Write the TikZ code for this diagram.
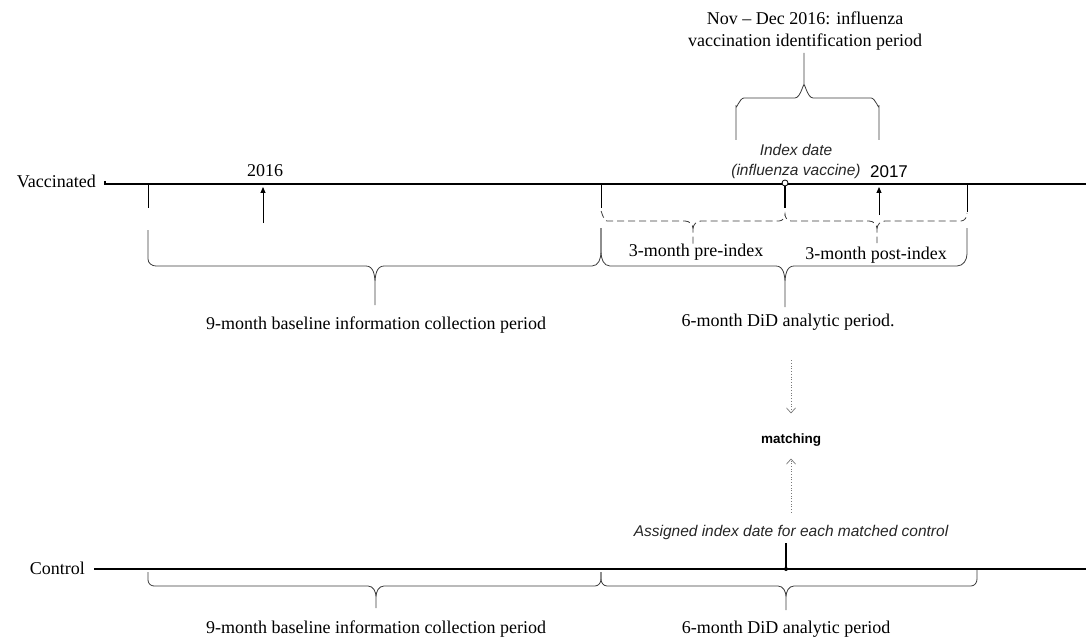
\documentclass[tikz,border=0pt]{standalone}
\usepackage{fontspec}
\setmainfont{Liberation Serif}
\setsansfont{Liberation Sans}
\usetikzlibrary{arrows.meta,positioning,calc}
\definecolor{LineGray}{RGB}{60, 60, 60}
\definecolor{DotGray}{RGB}{120, 120, 120}

\begin{document}
\begin{tikzpicture}[
    x=1pt, y=-1pt,
    lbl/.style={inner sep=0pt, font=\fontsize{18}{22}\selectfont, align=center},
    note/.style={inner sep=0pt, font=\sffamily\itshape\fontsize{15.5}{20}\selectfont, align=center, text=black!85},
    axis/.style={line width=1.6pt},
    tickline/.style={line width=0.9pt},
    brc/.style={draw=LineGray, line width=0.8pt},
    dbrc/.style={brc, dash pattern=on 7pt off 4pt},
    year/.style={-{Triangle[length=6pt, width=5pt]}, line width=0.9pt},
    dotarrow/.style={-{Straight Barb[length=5pt, width=9pt]}, DotGray, line width=0.7pt, dotted}
  ]
    \useasboundingbox (0,0) rectangle (1086,639);

    \node[lbl, anchor=east] (vacc) at (96,181) {Vaccinated};
    \node[lbl, anchor=east] (ctrl) at (85,568) {Control};
    \coordinate (vend) at (1086,184);
    \coordinate (cend) at (1086,569);
    \draw[axis] (vacc.east) ++(9pt,0) coordinate (vstart) -- (vstart |- vend) -- (vend);
    \draw[axis] (ctrl.east) ++(10pt,0) coordinate (cstart) -- (cstart |- cend) -- (cend);

    \node[lbl] (y2016) at (265,171) {2016};
    \node[inner sep=0pt, font=\sffamily\fontsize{17}{20}\selectfont] (y2017) at (889,172) {2017};
    \node[note] (index) at (796,161) {Index date\\(influenza vaccine)};
    \node[lbl] (nov) at (805,31) {Nov -- Dec 2016: influenza\\vaccination identification period};

    \draw[year] (263,223) -- (263,187);
    \draw[year] (879,215) -- (879,187);
    \draw[tickline] (148,184) -- (148,208);
    \draw[tickline] (601,184) -- (601,208);
    \draw[tickline] (967,184) -- (967,212);
    \draw[line width=2pt] (785,184) -- (785,208);
    \draw[line width=0.8pt, fill=white] (785,183) circle (3);

    \draw[brc] (736,140) -- (736,106) to[out=-90, in=180] (744,98) -- (795,98) to[out=0, in=90] (804,86) -- (804,53)
      (804,86) to[out=90, in=180] (813,98) -- (871,98) to[out=0, in=-90] (879,106) -- (879,140);

    \draw[dbrc] (601,212) to[out=90, in=180] (607,221) -- (685,221) to[out=0, in=90] (693,229) -- (693,244)
      (693,229) to[out=90, in=180] (701,221) -- (779,221) to[out=0, in=-90] (785,214)
      to[out=-90, in=180] (791,221) -- (869,221) to[out=0, in=90] (877,229) -- (877,243)
      (877,229) to[out=90, in=180] (885,221) -- (961,221) to[out=0, in=-90] (967,213);

    \node[lbl] (pre) at (696,252) {3-month pre-index};
    \node[lbl] (post) at (876,255) {3-month post-index};

    \draw[brc] (148,230) -- (148,259) to[out=-90, in=180] (156,266) -- (366,266) to[out=0, in=90] (375,284) -- (375,305)
      (375,284) to[out=90, in=180] (384,266) -- (592,266) to[out=0, in=-90] (601,252) -- (601,228);
    \draw[brc] (601,228) -- (601,252) to[out=-90, in=180] (610,266) -- (776,266) to[out=0, in=90] (785,284) -- (785,307)
      (785,284) to[out=90, in=180] (794,266) -- (957,266) to[out=0, in=-90] (967,254) -- (967,228);

    \node[lbl] (vbase) at (376,325) {9-month baseline information collection period};
    \node[lbl] (vdid) at (788,322) {6-month DiD analytic period.};

    \node[inner sep=0pt, font=\sffamily\bfseries\fontsize{13.5}{16}\selectfont] (match) at (791,440) {matching};
    \node[note] (assign) at (791,532) {Assigned index date for each matched control};

    \draw[dotarrow] ([yshift=-30pt]vdid.south -| match) -- ([yshift=20pt]match.north);
    \draw[dotarrow] ([yshift=12pt]assign.north -| match) -- ([yshift=-12pt]match.south);

    \draw[line width=2pt] (786,543) -- (786,569);
    \fill (786,569) circle (2);

    \draw[brc] (148,572) -- (148,580) to[out=-90, in=180] (154,586) -- (368,586) to[out=0, in=90] (376,597) -- (376,608)
      (376,597) to[out=90, in=180] (384,586) -- (595,586) to[out=0, in=-90] (601,579) -- (601,572);
    \draw[brc] (601,572) -- (601,579) to[out=-90, in=180] (607,586) -- (778,586) to[out=0, in=90] (786,597) -- (786,610)
      (786,597) to[out=90, in=180] (794,586) -- (971,586) to[out=0, in=-90] (977,579) -- (977,570);

    \node[lbl] (cbase) at (376,629) {9-month baseline information collection period};
    \node[lbl] (cdid) at (786,629) {6-month DiD analytic period};
  \end{tikzpicture}
\end{document}
